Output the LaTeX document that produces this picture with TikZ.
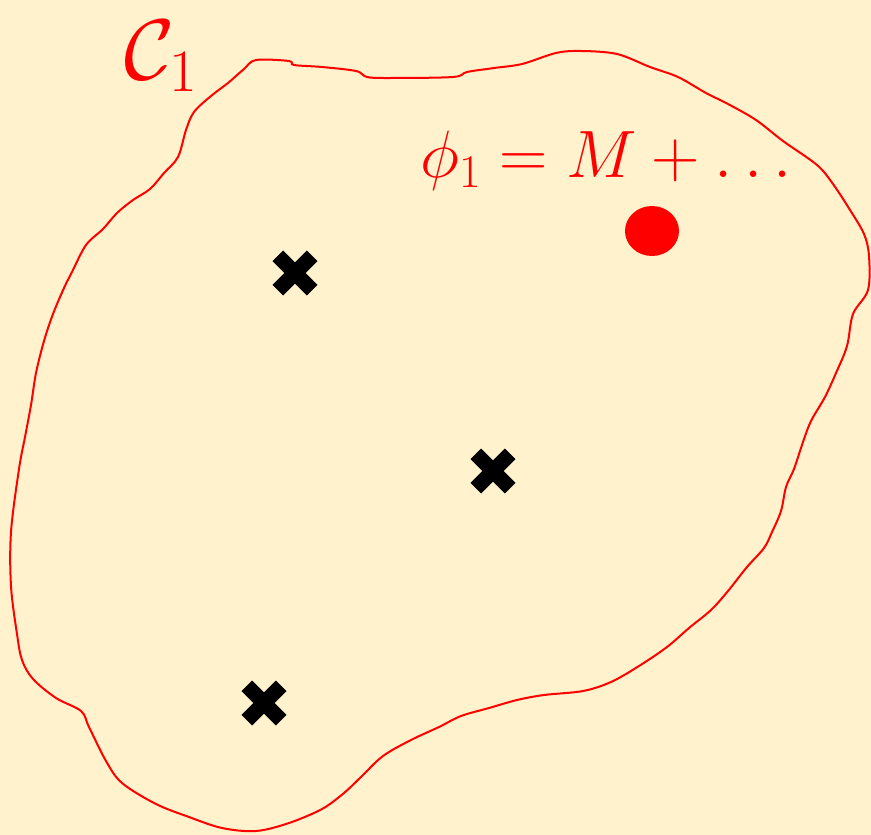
\RequirePackage{fix-cm}
\documentclass[tikz,border=0pt]{standalone}
\usetikzlibrary{shapes.geometric}
\definecolor{bg}{RGB}{255,242,204}
\definecolor{pred}{RGB}{255,0,0}
\tikzset{
  contour/.style={draw=pred, line width=2pt, smooth cycle, tension=0.55},
  redlabel/.style={text=pred, inner sep=0pt, anchor=base west},
  xbar/.style={line width=15pt, line cap=butt, black},
  dotmark/.style={ellipse, fill=pred, minimum width=54pt, minimum height=50pt, inner sep=0pt}
}
\newcommand{\xmark}[2]{%
  \coordinate (#1) at #2;
  \draw[xbar] ([shift={(-17.2,-17.2)}]#1) -- ([shift={(17.2,17.2)}]#1);
  \draw[xbar] ([shift={(-17.2,17.2)}]#1) -- ([shift={(17.2,-17.2)}]#1);
}
\begin{document}
\begin{tikzpicture}[x=1pt,y=-1pt]
\fill[bg] (0,0) rectangle (871,835);
\useasboundingbox (0,0) rectangle (871,835);
\draw[contour] plot coordinates {
(244,69) (256,60) (289,61) (294,65) (322,67) (356,71) (367,77) (389,78)
(453,77) (467,72) (494,68) (522,64) (556,53) (581,51) (617,54) (650,67)
(678,77) (706,93) (728,104) (756,120) (783,141) (817,165) (833,184)
(850,210) (864,234) (869,256) (868,290) (853,314) (847,346) (836,373)
(825,397) (811,421) (803,442) (794,469) (786,487) (781,511) (772,532)
(764,548) (747,567) (728,591) (711,610) (689,628) (667,647) (639,666)
(611,682) (583,691) (544,695) (517,700) (489,708) (461,716) (439,727)
(411,740) (383,756) (361,777) (344,793) (322,809) (289,823) (256,831)
(222,828) (189,817) (156,804) (122,783) (106,761) (89,727) (81,711)
(56,698) (33,679) (22,660) (17,634) (11,586) (11,532) (19,469) (25,437)
(31,405) (36,373) (44,341) (53,314) (64,288) (72,272) (86,245) (103,229)
(117,213) (133,200) (150,189) (164,173) (178,157) (186,130) (194,112)
(211,96) (228,83)};
\node[redlabel, font=\fontsize{86}{100}\selectfont] (c1) at (124,79) {$\mathcal{C}_1$};
\node[redlabel, font=\fontsize{67}{80}\selectfont] (phi) at (420,177) {$\phi_1 = M + \ldots$};
\node[dotmark] (dot) at (652,231) {};
\xmark{xa}{(295,273)}
\xmark{xb}{(493,471)}
\xmark{xc}{(264,703)}
\end{tikzpicture}
\end{document}
